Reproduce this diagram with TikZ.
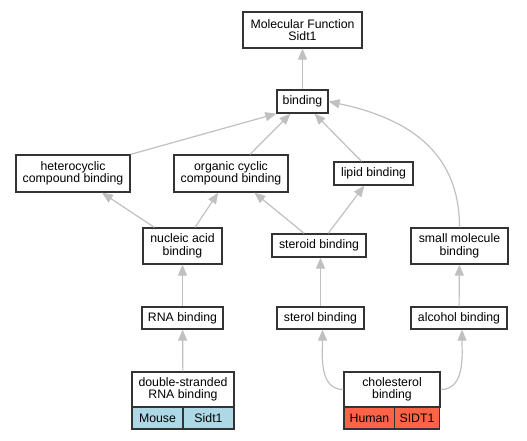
\documentclass[tikz,border=0pt]{standalone}
\usepackage{fontspec}
\setmainfont{Liberation Sans}
\usepackage{tikz}
\usetikzlibrary{arrows.meta, positioning}

\definecolor{edgegray}{HTML}{C0C0C0}
\definecolor{boxline}{HTML}{333333}
\definecolor{mousecell}{HTML}{ADD8E6}
\definecolor{humancell}{HTML}{FF6347}

\tikzset{
    term/.style={draw=boxline, line width=1.3pt, fill=white, inner sep=0pt,
        align=center, font=\fontsize{12.3}{12.5}\selectfont},
    cell/.style={term, minimum height=22pt},
    isa/.style={draw=edgegray, line width=1.2pt,
        -{Triangle[length=11pt,width=9pt,fill=edgegray]}}
}

\begin{document}
\begin{tikzpicture}[x=1pt, y=-1pt]
                \useasboundingbox (0,0) rectangle (527,440);

                % terms
                \node[term, minimum width=119pt, minimum height=36pt] (mf) at (302.5, 30) {Molecular Function\\Sidt1};
                \node[term, minimum width=51pt, minimum height=23pt] (bind) at (302.5, 101.5) {binding};
                \node[term, minimum width=114pt, minimum height=37pt] (het) at (73, 173.5) {heterocyclic\\compound binding};
                \node[term, minimum width=114pt, minimum height=37pt] (org) at (231, 173.5) {organic cyclic\\compound binding};
                \node[term, minimum width=79pt, minimum height=23pt] (lip) at (373.5, 173.5) {lipid binding};
                \node[term, minimum width=79pt, minimum height=36pt] (nuc) at (182.5, 246) {nucleic acid\\binding};
                \node[term, minimum width=94pt, minimum height=23pt] (ster) at (319, 245.5) {steroid binding};
                \node[term, minimum width=97pt, minimum height=36pt] (small) at (459.5, 246) {small molecule\\binding};
                \node[term, minimum width=81pt, minimum height=22pt] (rna) at (182.5, 318) {RNA binding};
                \node[term, minimum width=87pt, minimum height=22pt] (sterol) at (320.5, 318) {sterol binding};
                \node[term, minimum width=96pt, minimum height=22pt] (alc) at (459, 318) {alcohol binding};

                % annotated terms
                \node[term, minimum width=102pt, minimum height=35pt] (dsrna) at (183, 389.5) {double-stranded\\RNA binding};
                \node[cell, fill=mousecell, minimum width=51pt] (mouse) at (157.5, 418) {Mouse};
                \node[cell, fill=mousecell, minimum width=51pt] (mgene) at (208.5, 418) {Sidt1};
                \node[term, minimum width=96pt, minimum height=35pt] (chol) at (392, 389.5) {cholesterol\\binding};
                \node[cell, fill=humancell, minimum width=51pt] (human) at (369.5, 418) {Human};
                \node[cell, fill=humancell, minimum width=45pt] (hgene) at (417, 418) {SIDT1};

                % is_a edges
                \draw[isa] (bind) -- (mf);
                \draw[isa] (het.north east) -- (bind.south west);
                \draw[isa] (org) -- (bind);
                \draw[isa] (lip) -- (bind);
                \draw[isa] (small.north) to[out=90, in=-12, looseness=1.1] (bind.east);
                \draw[isa] (nuc) -- (het);
                \draw[isa] (nuc) -- (org);
                \draw[isa] (ster) -- (org);
                \draw[isa] (ster) -- (lip);
                \draw[isa] (rna) -- (nuc);
                \draw[isa] (sterol) -- (sterol |- ster.south);
                \draw[isa] (alc) -- (small);
                \draw[isa] (dsrna) -- (rna);
                \draw[isa] (chol.west) to[out=180, in=-90] ([xshift=2pt]sterol.south);
                \draw[isa] (chol.east) to[out=0, in=-90] ([xshift=3pt]alc.south);
            \end{tikzpicture}
\end{document}
